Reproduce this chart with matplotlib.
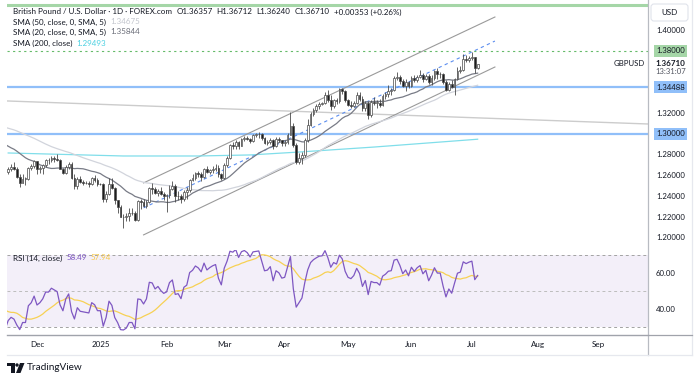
import matplotlib
matplotlib.use("Agg")
import matplotlib.pyplot as plt
import matplotlib.transforms as mtransforms
from matplotlib.patches import Rectangle, Circle, Polygon, FancyBboxPatch
from matplotlib.lines import Line2D
import numpy as np
import pandas as pd

plt.rcParams["font.family"] = ["Lato", "DejaVu Sans"]

# closes before the visible window (Sep 9 - Nov 15 2024), only to warm up SMA / RSI
pre_close = [
    1.3075, 1.3080, 1.3045, 1.3115, 1.3125,
    1.3210, 1.3175, 1.3205, 1.3270, 1.3320,
    1.3350, 1.3420, 1.3355, 1.3395, 1.3380,
    1.3375, 1.3285, 1.3230, 1.3115, 1.3125,
    1.3085, 1.3090, 1.3065, 1.3055, 1.3065,
    1.3060, 1.3070, 1.3000, 1.3010, 1.3050,
    1.2975, 1.2995, 1.2920, 1.2970, 1.2955,
    1.2975, 1.3010, 1.2975, 1.2895, 1.2915,
    1.2960, 1.3040, 1.2880, 1.2990, 1.2915,
    1.2875, 1.2745, 1.2690, 1.2665, 1.2610,
]

# daily candles Nov 18 2024 - Jul 3 2025 (open = previous close)
first_open = 1.2630
close = [
    # Nov
    1.2660, 1.2680, 1.2660, 1.2590, 1.2530, 1.2570, 1.2570, 1.2670, 1.2690, 1.2735,
    # Dec
    1.2660, 1.2675, 1.2700, 1.2745, 1.2745, 1.2770, 1.2760, 1.2750, 1.2665, 1.2620, 1.2685,
    1.2715, 1.2575, 1.2500, 1.2570, 1.2535, 1.2530, 1.2525, 1.2520, 1.2575, 1.2560, 1.2515,
    # Jan
    1.2515, 1.2375, 1.2420, 1.2515, 1.2480, 1.2360, 1.2300, 1.2205, 1.2200, 1.2210, 1.2240,
    1.2240, 1.2170, 1.2355, 1.2350, 1.2310, 1.2345, 1.2480, 1.2475, 1.2430, 1.2450, 1.2420, 1.2400,
    # Feb
    1.2410, 1.2475, 1.2495, 1.2400, 1.2405, 1.2370, 1.2445, 1.2460, 1.2560, 1.2580,
    1.2620, 1.2610, 1.2590, 1.2665, 1.2630, 1.2650, 1.2665, 1.2675, 1.2610, 1.2575,
    # Mar
    1.2700, 1.2770, 1.2890, 1.2885, 1.2920, 1.2880, 1.2950, 1.2965, 1.2955, 1.2935, 1.2990,
    1.2995, 1.3000, 1.2960, 1.2915, 1.2920, 1.2945, 1.2880, 1.2950, 1.2940, 1.2915,
    # Apr
    1.2920, 1.2990, 1.3080, 1.2895, 1.2730, 1.2765, 1.2800, 1.2940, 1.3085, 1.3190, 1.3235,
    1.3265, 1.3290, 1.3295, 1.3375, 1.3330, 1.3265, 1.3325, 1.3315, 1.3435, 1.3410, 1.3325,
    # May
    1.3280, 1.3270, 1.3300, 1.3375, 1.3340, 1.3245, 1.3300, 1.3180, 1.3310, 1.3300, 1.3300,
    1.3280, 1.3365, 1.3385, 1.3415, 1.3420, 1.3535, 1.3545, 1.3510, 1.3460, 1.3495, 1.3460,
    # Jun
    1.3540, 1.3515, 1.3550, 1.3570, 1.3525, 1.3555, 1.3495, 1.3540, 1.3605, 1.3575, 1.3575,
    1.3500, 1.3425, 1.3480, 1.3450, 1.3525, 1.3610, 1.3620, 1.3725, 1.3715, 1.3730,
    # Jul
    1.3740, 1.36357, 1.36710,
]
high = [
    1.2680, 1.2715, 1.2730, 1.2680, 1.2610, 1.2615, 1.2590, 1.2680, 1.2710, 1.2750,
    1.2740, 1.2695, 1.2715, 1.2760, 1.2770, 1.2790, 1.2785, 1.2810, 1.2760, 1.2670, 1.2700,
    1.2730, 1.2730, 1.2610, 1.2590, 1.2600, 1.2560, 1.2545, 1.2545, 1.2590, 1.2605, 1.2580,
    1.2530, 1.2530, 1.2450, 1.2575, 1.2575, 1.2490, 1.2365, 1.2320, 1.2230, 1.2240, 1.2290,
    1.2290, 1.2255, 1.2365, 1.2375, 1.2370, 1.2360, 1.2490, 1.2525, 1.2490, 1.2475, 1.2485, 1.2445,
    1.2420, 1.2510, 1.2550, 1.2515, 1.2450, 1.2420, 1.2460, 1.2490, 1.2570, 1.2615,
    1.2630, 1.2640, 1.2630, 1.2675, 1.2690, 1.2665, 1.2690, 1.2715, 1.2700, 1.2620,
    1.2720, 1.2790, 1.2905, 1.2920, 1.2945, 1.2935, 1.2960, 1.2985, 1.2985, 1.2965, 1.2995,
    1.3010, 1.3015, 1.3005, 1.2970, 1.2945, 1.2965, 1.2950, 1.2975, 1.2970, 1.2945,
    1.2945, 1.3010, 1.3207, 1.3110, 1.2915, 1.2820, 1.2830, 1.2960, 1.3140, 1.3210, 1.3250,
    1.3290, 1.3310, 1.3305, 1.3400, 1.3425, 1.3370, 1.3340, 1.3345, 1.3445, 1.3445, 1.3420,
    1.3335, 1.3320, 1.3315, 1.3400, 1.3400, 1.3365, 1.3315, 1.3320, 1.3325, 1.3360, 1.3330,
    1.3340, 1.3380, 1.3400, 1.3470, 1.3445, 1.3560, 1.3595, 1.3570, 1.3525, 1.3525, 1.3505,
    1.3555, 1.3565, 1.3570, 1.3615, 1.3585, 1.3575, 1.3580, 1.3570, 1.3615, 1.3630, 1.3595,
    1.3590, 1.3520, 1.3500, 1.3515, 1.3535, 1.3640, 1.3650, 1.3770, 1.3755, 1.3750,
    1.3788, 1.3745, 1.36712,
]
low = [
    1.2615, 1.2640, 1.2650, 1.2580, 1.2485, 1.2525, 1.2510, 1.2560, 1.2655, 1.2670,
    1.2615, 1.2620, 1.2610, 1.2680, 1.2715, 1.2730, 1.2730, 1.2740, 1.2660, 1.2615, 1.2610,
    1.2660, 1.2570, 1.2475, 1.2475, 1.2525, 1.2510, 1.2515, 1.2490, 1.2505, 1.2535, 1.2500,
    1.2505, 1.2350, 1.2350, 1.2410, 1.2475, 1.2325, 1.2240, 1.2200, 1.2100, 1.2160, 1.2165,
    1.2220, 1.2160, 1.2165, 1.2280, 1.2300, 1.2290, 1.2340, 1.2425, 1.2420, 1.2400, 1.2410, 1.2365,
    1.2250, 1.2380, 1.2460, 1.2345, 1.2360, 1.2335, 1.2355, 1.2370, 1.2445, 1.2550,
    1.2560, 1.2590, 1.2550, 1.2580, 1.2620, 1.2610, 1.2620, 1.2640, 1.2590, 1.2560,
    1.2570, 1.2680, 1.2760, 1.2860, 1.2860, 1.2860, 1.2880, 1.2935, 1.2940, 1.2910, 1.2920,
    1.2970, 1.2965, 1.2945, 1.2905, 1.2890, 1.2905, 1.2860, 1.2870, 1.2920, 1.2880,
    1.2885, 1.2900, 1.2990, 1.2875, 1.2710, 1.2710, 1.2710, 1.2780, 1.2925, 1.3080, 1.3170,
    1.3215, 1.3240, 1.3275, 1.3290, 1.3310, 1.3230, 1.3250, 1.3290, 1.3300, 1.3380, 1.3310,
    1.3265, 1.3250, 1.3255, 1.3285, 1.3320, 1.3220, 1.3220, 1.3140, 1.3165, 1.3280, 1.3250,
    1.3260, 1.3270, 1.3340, 1.3360, 1.3375, 1.3410, 1.3520, 1.3485, 1.3450, 1.3415, 1.3440,
    1.3450, 1.3495, 1.3500, 1.3535, 1.3500, 1.3515, 1.3480, 1.3475, 1.3520, 1.3530, 1.3535,
    1.3480, 1.3415, 1.3410, 1.3440, 1.3370, 1.3520, 1.3590, 1.3610, 1.3690, 1.3690,
    1.3710, 1.3590, 1.36240,
]

# SMA 200 at a few dates
sma200_dates = ["2024-11-18", "2025-01-13", "2025-02-18", "2025-03-14", "2025-04-08", "2025-05-14", "2025-07-03"]
sma200_vals = [1.2817, 1.2788, 1.2788, 1.2798, 1.2826, 1.2874, 1.29493]

# drawings
chan_dates = ["2025-01-22", "2025-07-11"]
chan_upper = [1.2529, 1.4125]
chan_mid = [1.2289, 1.3894]
chan_lower = [1.2029, 1.3644]
grey_line_dates = ["2024-11-18", "2025-09-22"]
grey_line_vals = [1.3317, 1.3098]
blue_levels = [1.34488, 1.30000]
green_level = 1.38
top_green_level = 1.4241

price_ticks = [1.40, 1.32, 1.28, 1.26, 1.24, 1.22, 1.20]
month_labels = ["Dec", "2025", "Feb", "Mar", "Apr", "May", "Jun", "Jul", "Aug", "Sep"]
month_starts = ["2024-12-01", "2025-01-01", "2025-02-01", "2025-03-01", "2025-04-01",
                "2025-05-01", "2025-06-01", "2025-07-01", "2025-08-01", "2025-09-01"]

# ---- calendar / indicators
cal = pd.bdate_range("2024-09-09", "2025-10-31")
def xi(s):
    return cal.searchsorted(pd.Timestamp(s))

days = pd.bdate_range("2024-11-18", "2025-07-03")
assert len(days) == len(close) == len(high) == len(low)
x = np.array([xi(d) for d in days])
o = np.array([first_open] + close[:-1])
c = np.array(close)
h = np.array(high)
l = np.array(low)

all_close = pd.Series(pre_close + close)
all_x = np.arange(len(all_close))
sma20 = all_close.rolling(20).mean()
sma50 = all_close.rolling(50).mean()
d = all_close.diff()
up = d.clip(lower=0).ewm(alpha=1 / 14, adjust=False).mean()
dn = (-d.clip(upper=0)).ewm(alpha=1 / 14, adjust=False).mean()
rsi = 100 - 100 / (1 + up / dn)
rsi_ma = rsi.rolling(14).mean()

# ---- figure
fig = plt.figure(figsize=(7, 3.81), dpi=100)
px = mtransforms.Affine2D().scale(1, -1).translate(0, 381) + mtransforms.IdentityTransform()
W, H = 700, 381
ax = fig.add_axes([7 / W, 1 - 250 / H, 641 / W, 248 / H])
ax2 = fig.add_axes([7 / W, 1 - 335 / H, 641 / W, 85 / H], sharex=ax)

x0 = 60 - 30 / 2.88
x1 = 60 + 611 / 2.88
ax.set_xlim(x0, x1)
ax.set_ylim(1.18836, 1.42694)
ax2.set_ylim(25.56, 72.78)
for a in (ax, ax2):
    for s in a.spines.values():
        s.set_visible(False)
    a.tick_params(left=False, right=False, labelleft=False, bottom=False, labelbottom=False)

# levels & drawings
ax.axhline(top_green_level, color="#a5d6a7", lw=2.2, zorder=1)
ax.axhline(green_level, color="#66bb6a", lw=0.8, ls=(0, (2, 3)), zorder=1)
for lv in blue_levels:
    ax.axhline(lv, color="#90bff9", lw=1.6, zorder=1)
ax.axline((xi(grey_line_dates[0]), grey_line_vals[0]), (xi(grey_line_dates[1]), grey_line_vals[1]),
          color="#cccccc", lw=1.0, zorder=1)
cx = [xi(s) for s in chan_dates]
ax.plot(cx, chan_upper, color="#9a9a9a", lw=0.8, zorder=2)
ax.plot(cx, chan_lower, color="#9a9a9a", lw=0.8, zorder=2)
ax.plot(cx, chan_mid, color="#5b8def", lw=0.8, ls=(0, (3, 3)), zorder=2)

# moving averages
ax.plot([xi(s) for s in sma200_dates], sma200_vals, color="#80deea", lw=0.9, zorder=2)
ax.plot(all_x, sma50, color="#d1d4dc", lw=0.9, zorder=2)
ax.plot(all_x, sma20, color="#787b86", lw=0.9, zorder=2)

# candles
is_up = c >= o
ax.vlines(x, l, h, color="#4a4a4a", lw=0.6, zorder=3)
body_lo = np.minimum(o, c)
body_h = np.maximum(np.abs(c - o), 0.0003)
ax.bar(x, body_h, bottom=body_lo, width=0.62,
       color=np.where(is_up, "#ffffff", "#1e1e1e"), edgecolor="#4a4a4a", linewidth=0.5, zorder=4)

# RSI pane
ax2.axhspan(30, 70, color="#7e57c2", alpha=0.09, lw=0, zorder=0)
for lv, col in [(70, "#a3a3a3"), (50, "#bdbdbd"), (30, "#a3a3a3")]:
    ax2.axhline(lv, color=col, lw=0.7, ls=(0, (3, 3)), zorder=1)
ax2.plot(all_x, rsi, color="#7e57c2", lw=0.9, zorder=3)
ax2.plot(all_x, rsi_ma, color="#f7d154", lw=0.9, zorder=2)

# time axis
ax2.spines["bottom"].set_visible(True)
ax2.spines["bottom"].set_color("#a0a3ab")
ax2.spines["bottom"].set_linewidth(1.0)
ax2.set_xticks([xi(s) for s in month_starts])
ax2.set_xticklabels(month_labels)
ax2.tick_params(labelbottom=True, length=0, pad=4, labelsize=5.8, labelcolor="#131722")

# right price scale
ytf = ax.get_yaxis_transform()
xr = 1 + 8 / 641
for p in price_ticks:
    ax.text(xr, p, f"{p:.5f}", transform=ytf, fontsize=5.6, color="#131722", va="center", clip_on=False)
ax.text(xr, green_level, "1.38000", transform=ytf, fontsize=5.6, color="#131722", va="center",
        clip_on=False, bbox=dict(boxstyle="square,pad=0.3", fc="#a5d6a7", ec="none"))
for lv in blue_levels:
    ax.text(xr, lv, f"{lv:.5f}", transform=ytf, fontsize=5.6, color="#131722", va="center",
            clip_on=False, bbox=dict(boxstyle="square,pad=0.3", fc="#90bff9", ec="none"))
ytf2 = ax2.get_yaxis_transform()
for p in [60, 40]:
    ax2.text(xr, p, f"{p:.2f}", transform=ytf2, fontsize=5.6, color="#131722", va="center", clip_on=False)

fig.text(655, 64, "1.36710", transform=px, fontsize=5.8, color="#131722", va="center", fontweight="bold")
fig.text(655, 72, "13:31:07", transform=px, fontsize=5.6, color="#50535e", va="center")
fig.text(645, 64, "GBPUSD", transform=px, fontsize=5.6, color="#131722", va="center", ha="right")
fig.patches.append(FancyBboxPatch((651, 4), 37, 17, boxstyle="round,pad=0,rounding_size=3",
                                  transform=px, fc="white", ec="#e0e3eb", lw=0.8))
fig.text(669.5, 12.5, "USD", transform=px, fontsize=5.8, color="#131722", va="center", ha="center")

# frame lines
for (xa, ya, xb, yb, col) in [(648, 0, 648, 355, "#b8bbc2"), (692, 0, 692, 355, "#e6e8ee"),
                              (648, 335, 692, 335, "#a0a3ab"), (7, 355, 692, 355, "#e6e8ee")]:
    fig.add_artist(Line2D([xa, xb], [ya, yb], transform=px, color=col, lw=0.9))

# legends
def chain(ax_, x_, y_, pieces, size=5.8):
    t = fig.text(x_, y_, pieces[0][0], transform=px, fontsize=size, color=pieces[0][1], va="center")
    for s, col in pieces[1:]:
        t = ax_.annotate(s, xy=(1, 0.5), xycoords=t, xytext=(3, 0), textcoords="offset points",
                         fontsize=size, color=col, va="center", annotation_clip=False)

chain(ax, 13, 12, [("British Pound / U.S. Dollar · 1D · FOREX.com", "#131722"),
                   ("O1.36357", "#131722"), ("H1.36712", "#131722"), ("L1.36240", "#131722"),
                   ("C1.36710", "#131722"), ("+0.00353 (+0.26%)", "#131722")])
chain(ax, 13, 22, [("SMA (50, close, 0, SMA, 5)", "#131722"), ("1.34675", "#c3c6ce")])
chain(ax, 13, 32, [("SMA (20, close, 0, SMA, 5)", "#131722"), ("1.35844", "#6a6d78")])
chain(ax, 13, 43, [("SMA (200, close)", "#131722"), ("1.29493", "#4dd0e1")])
chain(ax2, 13, 258, [("RSI (14, close)", "#131722"), ("58.49", "#7e57c2"), ("57.94", "#f7c948")])

# TradingView logo
fig.patches.append(Rectangle((7, 363), 7.5, 3, transform=px, fc="#131722", ec="none"))
fig.patches.append(Rectangle((11, 363), 3.5, 10, transform=px, fc="#131722", ec="none"))
fig.patches.append(Circle((17, 365), 1.7, transform=px, fc="#131722", ec="none"))
fig.patches.append(Polygon([(20, 363), (24.5, 363), (20.5, 373), (16, 373)], transform=px,
                           fc="#131722", ec="none"))
fig.text(27, 368, "TradingView", transform=px, fontsize=7.2, color="#131722", va="center")

fig.savefig("out.png", dpi=100)
